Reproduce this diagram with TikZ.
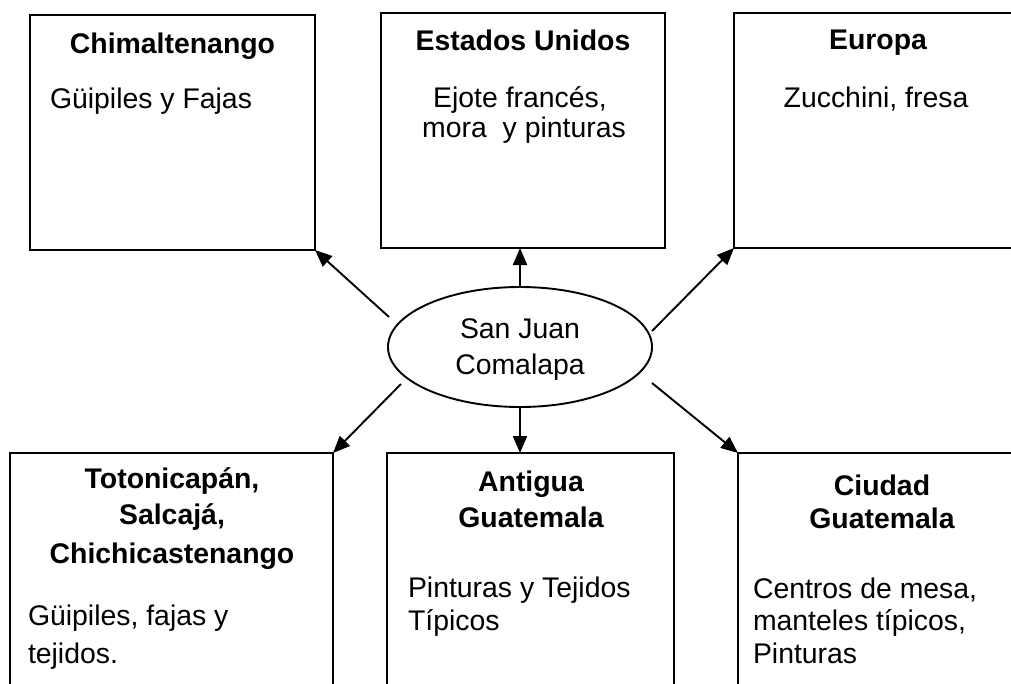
\documentclass[tikz,border=0pt]{standalone}
\usepackage{fontspec}
\setmainfont{Liberation Sans}
\usetikzlibrary{arrows.meta,shapes.geometric}
\begin{document}
\begin{tikzpicture}[x=1pt,y=-1pt,
  box/.style={draw, line width=1.9pt, inner sep=0pt, outer sep=0pt, anchor=north west},
  txt/.style={inner sep=0pt, outer sep=0pt, font=\fontsize{28.4}{33}\selectfont},
  ttl/.style={inner sep=0pt, outer sep=0pt, font=\bfseries\fontsize{28.4}{33}\selectfont},
  arr/.style={line width=1.9pt, -{Triangle[length=17pt,width=14pt]}}]
\useasboundingbox (0,0) rectangle (1011,683);
\clip (0,0) rectangle (1011,683);
% boxes
\node[box, minimum width=285pt, minimum height=235pt] (b1) at (30,15) {};
\node[box, minimum width=284pt, minimum height=235pt] (b2) at (381,13) {};
\node[box, minimum width=291pt, minimum height=235pt] (b3) at (734,13) {};
\node[box, minimum width=323pt, minimum height=260pt] (b4) at (10,453) {};
\node[box, minimum width=287pt, minimum height=260pt] (b5) at (387,453) {};
\node[box, minimum width=288pt, minimum height=260pt] (b6) at (738,453) {};
% texts
\node[ttl, anchor=base] (t1) at (172.5,53) {Chimaltenango};
\node[txt, anchor=base west] (d1) at (50,108) {Güipiles y Fajas};
\node[ttl, anchor=base] (t2) at (523,50) {Estados Unidos};
\node[txt, anchor=base] (d2a) at (520,107) {Ejote francés,};
\node[txt, anchor=base] (d2b) at (524,137) {mora\ \ y pinturas};
\node[ttl, anchor=base] (t3) at (878,49) {Europa};
\node[txt, anchor=base] (d3) at (876,107) {Zucchini, fresa};
\node[ttl, anchor=base] (t4a) at (172,488) {Totonicapán,};
\node[ttl, anchor=base] (t4b) at (172,524) {Salcajá,};
\node[ttl, anchor=base] (t4c) at (172,563) {Chichicastenango};
\node[txt, anchor=base west] (d4a) at (28,625) {Güipiles, fajas y};
\node[txt, anchor=base west] (d4b) at (28,663) {tejidos.};
\node[ttl, anchor=base] (t5a) at (531,491) {Antigua};
\node[ttl, anchor=base] (t5b) at (531,527) {Guatemala};
\node[txt, anchor=base west] (d5a) at (408,597) {Pinturas y Tejidos};
\node[txt, anchor=base west] (d5b) at (408,630) {Típicos};
\node[ttl, anchor=base] (t6a) at (882,495) {Ciudad};
\node[ttl, anchor=base] (t6b) at (882,528) {Guatemala};
\node[txt, anchor=base west] (d6a) at (753,598) {Centros de mesa,};
\node[txt, anchor=base west] (d6b) at (753,630) {manteles típicos,};
\node[txt, anchor=base west] (d6c) at (753,663) {Pinturas};
% centre
\node[draw, ellipse, line width=1.9pt, minimum width=264pt, minimum height=120pt, inner sep=0pt, outer sep=0pt] (sj) at (520,347) {};
\node[txt, anchor=base] (sja) at (520,338) {San Juan};
\node[txt, anchor=base] (sjb) at (520,374) {Comalapa};
% arrow starts
\coordinate (s1) at (389,317);
\coordinate (s3) at (652,331);
\coordinate (s4) at (401,384);
\coordinate (s6) at (652,383);
% arrows
\draw[arr] (s1) -- (b1.south east);
\draw[arr] (sj.north) -- (sj.north |- b2.south);
\draw[arr] (s3) -- (b3.south west);
\draw[arr] (s4) -- (b4.north east);
\draw[arr] (sj.south) -- (sj.south |- b5.north);
\draw[arr] (s6) -- (b6.north west);
\end{tikzpicture}
\end{document}
